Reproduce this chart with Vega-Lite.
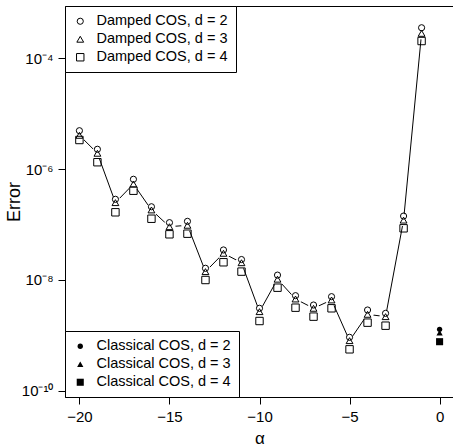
{
  "$schema": "https://vega.github.io/schema/vega-lite/v6.json",
  "width": 389,
  "height": 391,
  "autosize": {"type": "none"},
  "padding": {"left": 65, "top": 6, "right": 0, "bottom": 51},
  "background": "white",
  "config": {
    "view": {"stroke": "black", "strokeWidth": 1},
    "font": "Liberation Sans"
  },
  "data": {
    "values": [
      {"alpha": -20, "error": 4.93e-6, "series": "Damped COS, d = 2"},
      {"alpha": -20, "error": 4.07e-6, "series": "Damped COS, d = 3"},
      {"alpha": -20, "error": 3.35e-6, "series": "Damped COS, d = 4"},
      {"alpha": -19, "error": 2.28e-6, "series": "Damped COS, d = 2"},
      {"alpha": -19, "error": 1.93e-6, "series": "Damped COS, d = 3"},
      {"alpha": -19, "error": 1.33e-6, "series": "Damped COS, d = 4"},
      {"alpha": -18, "error": 2.85e-7, "series": "Damped COS, d = 2"},
      {"alpha": -18, "error": 2.48e-7, "series": "Damped COS, d = 3"},
      {"alpha": -18, "error": 1.66e-7, "series": "Damped COS, d = 4"},
      {"alpha": -17, "error": 6.55e-7, "series": "Damped COS, d = 2"},
      {"alpha": -17, "error": 5.38e-7, "series": "Damped COS, d = 3"},
      {"alpha": -17, "error": 4.07e-7, "series": "Damped COS, d = 4"},
      {"alpha": -16, "error": 2.09e-7, "series": "Damped COS, d = 2"},
      {"alpha": -16, "error": 1.83e-7, "series": "Damped COS, d = 3"},
      {"alpha": -16, "error": 1.27e-7, "series": "Damped COS, d = 4"},
      {"alpha": -15, "error": 1.08e-7, "series": "Damped COS, d = 2"},
      {"alpha": -15, "error": 9.12e-8, "series": "Damped COS, d = 3"},
      {"alpha": -15, "error": 6.65e-8, "series": "Damped COS, d = 4"},
      {"alpha": -14, "error": 1.14e-7, "series": "Damped COS, d = 2"},
      {"alpha": -14, "error": 9.68e-8, "series": "Damped COS, d = 3"},
      {"alpha": -14, "error": 6.82e-8, "series": "Damped COS, d = 4"},
      {"alpha": -13, "error": 1.62e-8, "series": "Damped COS, d = 2"},
      {"alpha": -13, "error": 1.41e-8, "series": "Damped COS, d = 3"},
      {"alpha": -13, "error": 9.95e-9, "series": "Damped COS, d = 4"},
      {"alpha": -12, "error": 3.47e-8, "series": "Damped COS, d = 2"},
      {"alpha": -12, "error": 3.02e-8, "series": "Damped COS, d = 3"},
      {"alpha": -12, "error": 2.08e-8, "series": "Damped COS, d = 4"},
      {"alpha": -11, "error": 2.33e-8, "series": "Damped COS, d = 2"},
      {"alpha": -11, "error": 2.04e-8, "series": "Damped COS, d = 3"},
      {"alpha": -11, "error": 1.41e-8, "series": "Damped COS, d = 4"},
      {"alpha": -10, "error": 3.07e-9, "series": "Damped COS, d = 2"},
      {"alpha": -10, "error": 2.67e-9, "series": "Damped COS, d = 3"},
      {"alpha": -10, "error": 1.81e-9, "series": "Damped COS, d = 4"},
      {"alpha": -9, "error": 1.22e-8, "series": "Damped COS, d = 2"},
      {"alpha": -9, "error": 1.03e-8, "series": "Damped COS, d = 3"},
      {"alpha": -9, "error": 7.23e-9, "series": "Damped COS, d = 4"},
      {"alpha": -8, "error": 5.19e-9, "series": "Damped COS, d = 2"},
      {"alpha": -8, "error": 4.52e-9, "series": "Damped COS, d = 3"},
      {"alpha": -8, "error": 3.15e-9, "series": "Damped COS, d = 4"},
      {"alpha": -7, "error": 3.52e-9, "series": "Damped COS, d = 2"},
      {"alpha": -7, "error": 3.07e-9, "series": "Damped COS, d = 3"},
      {"alpha": -7, "error": 2.17e-9, "series": "Damped COS, d = 4"},
      {"alpha": -6, "error": 4.98e-9, "series": "Damped COS, d = 2"},
      {"alpha": -6, "error": 4.34e-9, "series": "Damped COS, d = 3"},
      {"alpha": -6, "error": 3.07e-9, "series": "Damped COS, d = 4"},
      {"alpha": -5, "error": 9.2e-10, "series": "Damped COS, d = 2"},
      {"alpha": -5, "error": 8.0e-10, "series": "Damped COS, d = 3"},
      {"alpha": -5, "error": 5.58e-10, "series": "Damped COS, d = 4"},
      {"alpha": -4, "error": 2.86e-9, "series": "Damped COS, d = 2"},
      {"alpha": -4, "error": 2.39e-9, "series": "Damped COS, d = 3"},
      {"alpha": -4, "error": 1.69e-9, "series": "Damped COS, d = 4"},
      {"alpha": -3, "error": 2.49e-9, "series": "Damped COS, d = 2"},
      {"alpha": -3, "error": 2.17e-9, "series": "Damped COS, d = 3"},
      {"alpha": -3, "error": 1.49e-9, "series": "Damped COS, d = 4"},
      {"alpha": -2, "error": 1.42e-7, "series": "Damped COS, d = 2"},
      {"alpha": -2, "error": 1.2e-7, "series": "Damped COS, d = 3"},
      {"alpha": -2, "error": 8.53e-8, "series": "Damped COS, d = 4"},
      {"alpha": -1, "error": 3.56e-4, "series": "Damped COS, d = 2"},
      {"alpha": -1, "error": 2.82e-4, "series": "Damped COS, d = 3"},
      {"alpha": -1, "error": 2.05e-4, "series": "Damped COS, d = 4"},
      {"alpha": 0, "error": 1.28e-9, "series": "Classical COS, d = 2"},
      {"alpha": 0, "error": 1.11e-9, "series": "Classical COS, d = 3"},
      {"alpha": 0, "error": 7.66e-10, "series": "Classical COS, d = 4"}
    ]
  },
  "encoding": {
    "x": {
      "field": "alpha",
      "type": "quantitative",
      "scale": {"domain": [-20.8, 0.8], "nice": false, "zero": false},
      "axis": {
        "values": [-20, -15, -10, -5, 0],
        "title": "α",
        "grid": false,
        "domain": false,
        "tickSize": 7,
        "tickColor": "black",
        "labelColor": "black",
        "labelFont": "Liberation Sans",
        "labelFontSize": 15,
        "labelPadding": 5,
        "titleFont": "Liberation Sans",
        "titleFontSize": 17,
        "titleFontWeight": "normal",
        "titleColor": "black",
        "titlePadding": 6
      }
    },
    "y": {
      "field": "error",
      "type": "quantitative",
      "scale": {"type": "log", "domain": [7.69e-11, 8.79e-4], "nice": false},
      "axis": {
        "values": [1e-10, 1e-8, 1e-6, 1e-4],
        "labelExpr": "'10' + (round(log(datum.value)/LN10) == -4 ? '⁻⁴' : round(log(datum.value)/LN10) == -6 ? '⁻⁶' : round(log(datum.value)/LN10) == -8 ? '⁻⁸' : '⁻¹⁰')",
        "title": "Error",
        "grid": false,
        "domain": false,
        "tickSize": 7,
        "tickColor": "black",
        "labelColor": "black",
        "labelFont": "Liberation Sans",
        "labelFontSize": 15,
        "labelPadding": 5,
        "titleFont": "Liberation Sans",
        "titleFontSize": 18,
        "titleFontWeight": "normal",
        "titleColor": "black",
        "titleX": -42
      }
    }
  },
  "layer": [
    {
      "transform": [{"filter": "datum.series == 'Damped COS, d = 3'"}],
      "mark": {"type": "line", "color": "black", "strokeWidth": 1}
    },
    {
      "transform": [{"filter": "datum.series == 'Damped COS, d = 3'"}],
      "mark": {"type": "point", "shape": "circle", "filled": true, "color": "white", "opacity": 1, "size": 150, "strokeWidth": 0}
    },
    {
      "transform": [{"filter": "indexof(datum.series, 'Damped') == 0"}],
      "mark": {"type": "point", "filled": false, "color": "black", "opacity": 1, "strokeWidth": 1},
      "encoding": {
        "shape": {
          "field": "series",
          "type": "nominal",
          "scale": {"domain": ["Damped COS, d = 2", "Damped COS, d = 3", "Damped COS, d = 4"], "range": ["circle", "triangle-up", "square"]},
          "legend": {
            "title": null,
            "orient": "top-left",
            "offset": 0,
            "padding": 8,
            "strokeColor": "black",
            "fillColor": "white",
            "labelFont": "Liberation Sans",
            "labelFontSize": 14.5,
            "labelColor": "black",
            "labelOffset": 9,
            "rowPadding": 3,
            "symbolStrokeWidth": 1,
            "symbolStrokeColor": "black",
            "symbolFillColor": "transparent"
          }
        },
        "size": {
          "field": "series",
          "type": "nominal",
          "scale": {"domain": ["Damped COS, d = 2", "Damped COS, d = 3", "Damped COS, d = 4"], "range": [38, 55, 28]}
        }
      }
    },
    {
      "transform": [{"filter": "indexof(datum.series, 'Classical') == 0"}],
      "mark": {"type": "point", "filled": true, "color": "black", "opacity": 1, "strokeWidth": 0},
      "encoding": {
        "shape": {
          "field": "series",
          "type": "nominal",
          "scale": {"domain": ["Classical COS, d = 2", "Classical COS, d = 3", "Classical COS, d = 4"], "range": ["circle", "triangle-up", "square"]},
          "legend": {
            "title": null,
            "orient": "bottom-left",
            "offset": 0,
            "padding": 8,
            "strokeColor": "black",
            "fillColor": "white",
            "labelFont": "Liberation Sans",
            "labelFontSize": 14.5,
            "labelColor": "black",
            "labelOffset": 9,
            "rowPadding": 3,
            "symbolStrokeWidth": 0,
            "symbolFillColor": "black"
          }
        },
        "size": {
          "field": "series",
          "type": "nominal",
          "scale": {"domain": ["Classical COS, d = 2", "Classical COS, d = 3", "Classical COS, d = 4"], "range": [28, 50, 38]}
        }
      }
    }
  ],
  "resolve": {"scale": {"shape": "independent", "size": "independent"}}
}
